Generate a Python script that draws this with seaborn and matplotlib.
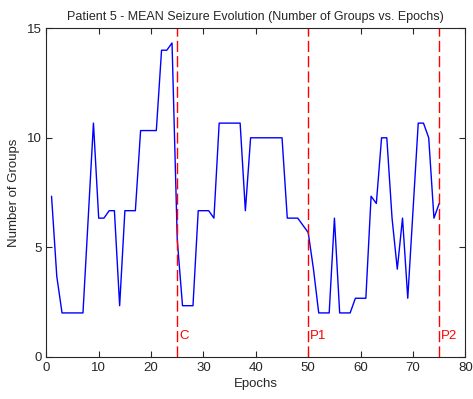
import matplotlib
matplotlib.use("Agg")
import matplotlib.pyplot as plt
import seaborn as sns
import pandas as pd

epochs = list(range(1, 76))
groups = [7.33, 3.67, 2, 2, 2, 2, 2, 6.33, 10.67, 6.33,
          6.33, 6.67, 6.67, 2.33, 6.67, 6.67, 6.67, 10.33, 10.33, 10.33,
          10.33, 14, 14, 14.33, 5.33, 2.33, 2.33, 2.33, 6.67, 6.67,
          6.67, 6.33, 10.67, 10.67, 10.67, 10.67, 10.67, 6.67, 10, 10,
          10, 10, 10, 10, 10, 6.33, 6.33, 6.33, 6.0, 5.67,
          4, 2, 2, 2, 6.33, 2, 2, 2, 2.67, 2.67,
          2.67, 7.33, 7, 10, 10, 6.33, 4, 6.33, 2.67, 6.67,
          10.67, 10.67, 10, 6.33, 7]
marker_x = [25, 50, 75]
marker_labels = ["C", "P1", "P2"]
x_ticks = [0, 10, 20, 30, 40, 50, 60, 70, 80]
y_ticks = [0, 5, 10, 15]

sns.set_style("ticks")
plt.rcParams['font.family'] = ['Liberation Sans', 'DejaVu Sans']
plt.rcParams['xtick.direction'] = 'in'
plt.rcParams['ytick.direction'] = 'in'

fig = plt.figure(figsize=(4.73, 3.99), dpi=100)
ax = fig.add_axes([0.0979, 0.106, 0.886, 0.823])

df = pd.DataFrame({"Epochs": epochs, "Groups": groups})
sns.lineplot(data=df, x="Epochs", y="Groups", color="#0000ff", linewidth=1.0, ax=ax)

for xv, lab in zip(marker_x, marker_labels):
    ax.axvline(xv, color="#ff0000", linestyle=(0, (8, 3)), linewidth=1.0)
    ax.text(xv + 0.4, 0.95, lab, color="#ff0000", fontsize=9.5, va="center", ha="left")

ax.set_xlim(0, 80)
ax.set_ylim(0, 15)
ax.set_xticks(x_ticks)
ax.set_yticks(y_ticks)
ax.tick_params(axis="both", which="both", top=True, right=True, length=4, width=0.8,
               labelsize=9.5, colors="#262626")
ax.tick_params(axis="x", pad=4)
ax.tick_params(axis="y", pad=3)
for s in ax.spines.values():
    s.set_visible(True)
    s.set_linewidth(0.8)
    s.set_color("#262626")
ax.set_xlabel("Epochs", fontsize=9.5, labelpad=3)
ax.set_ylabel("Number of Groups", fontsize=9.5, labelpad=5)
ax.set_title("Patient 5 - MEAN Seizure Evolution (Number of Groups vs. Epochs)", fontsize=9, pad=6)

fig.savefig("out.png", dpi=100)
